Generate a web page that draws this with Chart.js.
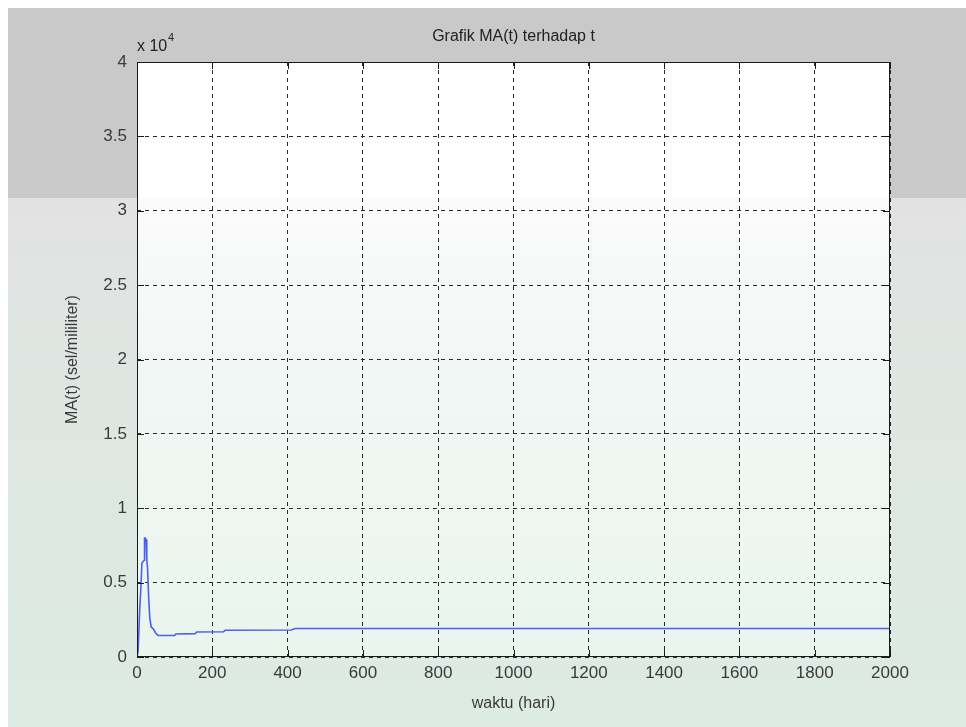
<!DOCTYPE html>
<html>
<head>
<meta charset="utf-8">
<script src="https://cdn.jsdelivr.net/npm/chart.js@4"></script>
<style>
  html, body { margin: 0; padding: 0; background: #fff; }
  #wrap { width: 966px; height: 727px; }
</style>
</head>
<body>
<div id="wrap"><canvas id="chart" width="966" height="727"></canvas></div>
<script>
// waktu (hari) and MA(t) in sel/mililiter
const tDays = [0, 3, 7, 10, 13, 19, 20, 22, 24, 26, 28, 31, 34, 38, 43, 50, 56, 100, 103, 155, 158, 230, 235, 410, 420, 1000, 1500, 2000]
const maValues = [0, 400, 3100, 4500, 6300, 6500, 8000, 8000, 7900, 6500, 6000, 4000, 2600, 2000, 1900, 1600, 1450, 1450, 1550, 1570, 1680, 1700, 1800, 1820, 1920, 1920, 1920, 1920]

const xTicks = [0, 200, 400, 600, 800, 1000, 1200, 1400, 1600, 1800, 2000]
const yTicks = [0, 0.5, 1, 1.5, 2, 2.5, 3, 3.5, 4]
const yScaleFactor = 10000

const FONT = "'Liberation Sans', Arial, sans-serif"
const TEXT = "#3a3a3a"

const points = tDays.map((t, i) => ({ x: t, y: maValues[i] }))

const backgroundPlugin = {
  id: 'matlabBackground',
  beforeDraw(chart) {
    const { ctx, chartArea: a, width, height } = chart
    ctx.save()
    ctx.fillStyle = "#ffffff"
    ctx.fillRect(0, 0, width, height)
    // grey figure band at the top
    ctx.fillStyle = "#c9c9c9"
    ctx.fillRect(8, 8, width - 8, 190)
    // lighter, watermarked lower part
    const g = ctx.createLinearGradient(0, 198, 0, height)
    g.addColorStop(0, "#e2e2e2")
    g.addColorStop(0.35, "#dfe6e2")
    g.addColorStop(1, "#dcebe3")
    ctx.fillStyle = g
    ctx.fillRect(8, 198, width - 8, height - 198)
    // plot area
    ctx.fillStyle = "#ffffff"
    ctx.fillRect(a.left, a.top, a.right - a.left, 198 - a.top)
    const g2 = ctx.createLinearGradient(0, 198, 0, a.bottom)
    g2.addColorStop(0, "#fbfbfb")
    g2.addColorStop(0.4, "#f1f7f4")
    g2.addColorStop(1, "#eaf5ef")
    ctx.fillStyle = g2
    ctx.fillRect(a.left, 198, a.right - a.left, a.bottom - 198)
    ctx.restore()
  },
  afterDraw(chart) {
    const { ctx, chartArea: a, scales } = chart
    ctx.save()
    // axes box
    ctx.strokeStyle = "#1a1a1a"
    ctx.lineWidth = 1
    ctx.strokeRect(a.left + 0.5, a.top + 0.5, a.right - a.left - 1, a.bottom - a.top - 1)
    // inward tick marks
    ctx.beginPath()
    xTicks.forEach(v => {
      const x = Math.round(scales.x.getPixelForValue(v)) + 0.5
      ctx.moveTo(x, a.bottom); ctx.lineTo(x, a.bottom - 7)
      ctx.moveTo(x, a.top); ctx.lineTo(x, a.top + 7)
    })
    yTicks.forEach(v => {
      const y = Math.round(scales.y.getPixelForValue(v * yScaleFactor)) + 0.5
      ctx.moveTo(a.left, y); ctx.lineTo(a.left + 7, y)
      ctx.moveTo(a.right, y); ctx.lineTo(a.right - 7, y)
    })
    ctx.stroke()
    // title and exponent label
    ctx.fillStyle = "#222"
    ctx.font = "16px " + FONT
    ctx.textAlign = "center"
    ctx.textBaseline = "middle"
    ctx.fillText("Grafik MA(t) terhadap t", (a.left + a.right) / 2, 37)
    ctx.textAlign = "left"
    ctx.fillText("x 10", a.left, 47)
    ctx.font = "11px " + FONT
    ctx.fillText("4", a.left + 31, 38)
    ctx.restore()
  }
}

new Chart(document.getElementById("chart"), {
  type: "scatter",
  data: {
    datasets: [{
      label: "MA(t)",
      data: points,
      showLine: true,
      borderColor: "#4d5ef2",
      borderWidth: 1.6,
      pointRadius: 0,
      tension: 0,
      fill: false
    }]
  },
  options: {
    responsive: false,
    animation: false,
    events: [],
    layout: { padding: { top: 62, right: 76, bottom: 0, left: 0 } },
    plugins: {
      legend: { display: false },
      tooltip: { enabled: false }
    },
    scales: {
      x: {
        type: "linear",
        min: 0,
        max: 2000,
        afterFit(scale) { scale.height = 70 },
        afterBuildTicks(scale) { scale.ticks = xTicks.map(v => ({ value: v })) },
        grid: { color: "#2a2a2a", lineWidth: 1, drawTicks: false },
        border: { display: false, dash: [4, 4] },
        ticks: {
          color: TEXT,
          font: { family: FONT, size: 17 },
          padding: 6,
          maxRotation: 0,
          callback: v => String(v)
        },
        title: {
          display: true,
          text: "waktu (hari)",
          color: TEXT,
          font: { family: FONT, size: 16 },
          padding: { top: 0, bottom: 14 }
        }
      },
      y: {
        type: "linear",
        min: 0,
        max: 40000,
        afterFit(scale) { scale.width = 137 },
        afterBuildTicks(scale) { scale.ticks = yTicks.map(v => ({ value: v * yScaleFactor })) },
        grid: { color: "#2a2a2a", lineWidth: 1, drawTicks: false },
        border: { display: false, dash: [4, 4] },
        ticks: {
          color: TEXT,
          font: { family: FONT, size: 17 },
          padding: 10,
          callback: v => String(v / yScaleFactor)
        },
        title: {
          display: true,
          text: "MA(t) (sel/mililiter)",
          color: TEXT,
          font: { family: FONT, size: 16 },
          padding: { top: 63, bottom: 0 }
        }
      }
    }
  },
  plugins: [backgroundPlugin]
})
</script>
</body>
</html>
